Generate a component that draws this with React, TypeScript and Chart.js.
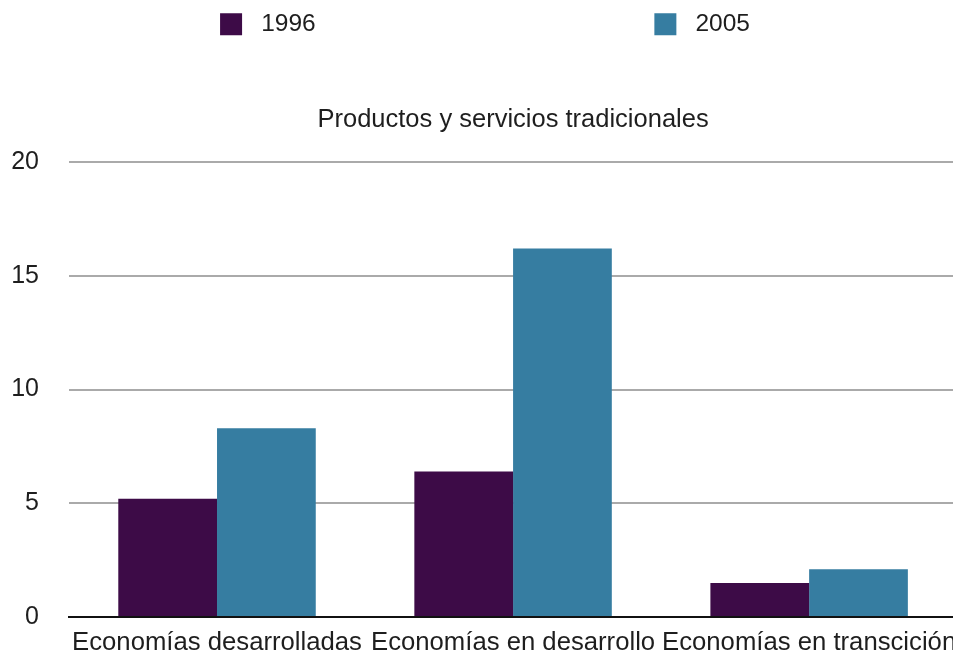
import React, { useEffect, useRef } from "react";
import { Chart, registerables } from "chart.js";

Chart.register(...registerables);

const categories = ["Economías desarrolladas", "Economías en desarrollo", "Economías en transcición"];
const seriesLabels = ["1996", "2005"];
const values1996 = [5.2, 6.4, 1.5];
const values2005 = [8.3, 16.2, 2.1];
const yMin = 0;
const yMax = 20;
const yStep = 5;
const chartTitle = "Productos y servicios tradicionales";

const COLOR_1996 = "#3d0b47";
const COLOR_2005 = "#367da1";
const TEXT = "#1e1e1e";
const FONT = '"Liberation Sans", Arial, Helvetica, sans-serif';

export default function App() {
  const ref = useRef<HTMLCanvasElement | null>(null);

  useEffect(() => {
    if (!ref.current) return;
    Chart.defaults.font.family = FONT;
    const chart = new Chart(ref.current, {
      type: "bar",
      data: {
        labels: categories,
        datasets: [
          {
            label: seriesLabels[0],
            data: values1996,
            backgroundColor: COLOR_1996,
            borderWidth: 0,
            categoryPercentage: 0.667,
            barPercentage: 1.0,
          },
          {
            label: seriesLabels[1],
            data: values2005,
            backgroundColor: COLOR_2005,
            borderWidth: 0,
            categoryPercentage: 0.667,
            barPercentage: 1.0,
          },
        ],
      },
      options: {
        responsive: false,
        animation: false,
        layout: { padding: { left: 11, right: 9, top: 0, bottom: 0 } },
        plugins: {
          legend: {
            position: "top",
            align: "center",
            weight: 1000,
            labels: {
              boxWidth: 22,
              boxHeight: 22,
              padding: 12,
              color: TEXT,
              font: { size: 24.5 },
              generateLabels: (c: any) => {
                const items = (Chart.defaults.plugins.legend.labels as any).generateLabels(c);
                return items.map((it: any, i: number) => ({
                  ...it,
                  lineWidth: 0,
                  text: " " + it.text + (i === 0 ? " ".repeat(48) : ""),
                }));
              },
            },
          },
          title: {
            display: true,
            text: chartTitle,
            fullSize: false,
            weight: 500,
            color: TEXT,
            font: { size: 25.5, weight: "normal" },
            padding: { top: 58, bottom: 27 },
          },
          tooltip: { enabled: false },
        },
        scales: {
          x: {
            grid: { display: false, drawTicks: false },
            border: { display: true, color: "#111", width: 2 },
            ticks: { color: TEXT, font: { size: 25.7 }, padding: 10, maxRotation: 0, autoSkip: false },
            afterFit: (scale: any) => {
              scale.height = 39;
            },
          },
          y: {
            min: yMin,
            max: yMax,
            grid: {
              drawTicks: false,
              color: (ctx: any) => (ctx.tick && ctx.tick.value === 0 ? "rgba(0,0,0,0)" : "#aaaaaa"),
              lineWidth: 2,
            },
            border: { display: false },
            ticks: { stepSize: yStep, color: TEXT, font: { size: 25 }, padding: 30 },
            afterFit: (scale: any) => {
              scale.width = 58;
              scale.paddingTop = 0;
              scale.paddingBottom = 0;
            },
          },
        },
      },
    });
    return () => chart.destroy();
  }, []);

  return (
    <div style={{ position: "absolute", left: 0, top: 0, width: 953, height: 656, overflow: "hidden", background: "#fff" }}>
      <canvas ref={ref} width={968} height={656} style={{ display: "block" }} />
    </div>
  );
}
